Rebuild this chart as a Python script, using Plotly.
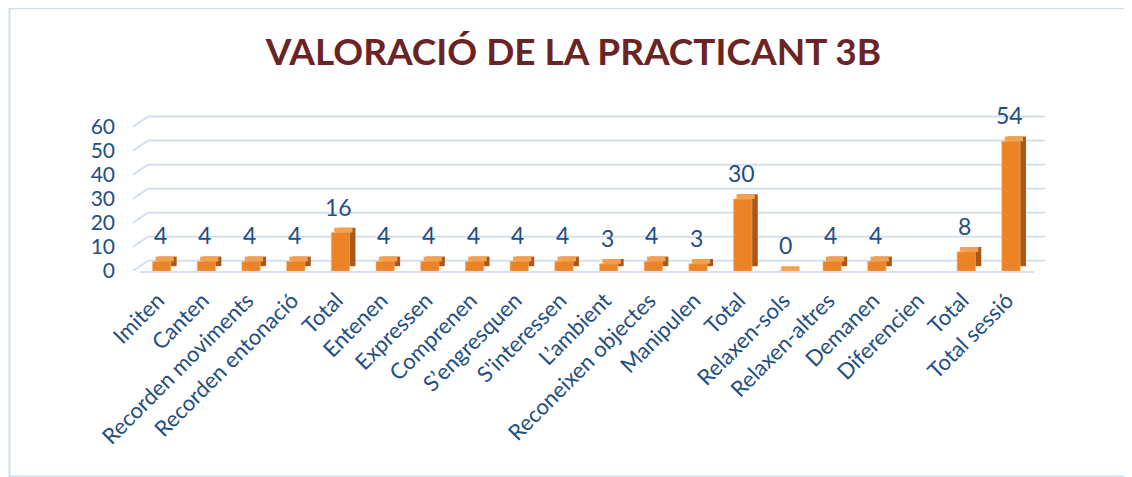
import plotly.graph_objects as go

categories = [
    "Imiten", "Canten", "Recorden moviments", "Recorden entonació", "Total",
    "Entenen", "Expressen", "Comprenen", "S’engresquen", "S'interessen",
    "L’ambient", "Reconeixen objectes", "Manipulen", "Total", "Relaxen-sols",
    "Relaxen-altres", "Demanen", "Diferencien", "Total", "Total sessió",
]
values = [4, 4, 4, 4, 16, 4, 4, 4, 4, 4, 3, 4, 3, 30, 0, 4, 4, None, 8, 54]
y_ticks = [0, 10, 20, 30, 40, 50, 60]

BLUE = "#1F4E82"
GRID = "#D5DFEF"
FONT = "Lato"

pos = list(range(len(categories)))
depth = 2  # fake 3D depth in value units
wall_shift = 4.3  # back-wall gridlines sit a bit higher than the front

fig = go.Figure()
# side face (darker, shifted right/up)
fig.add_trace(go.Bar(
    x=pos, y=values, base=depth, width=0.41, offset=-0.09,
    marker=dict(color="#A9581A", line=dict(width=0)), hoverinfo="skip",
))
# top face
fig.add_trace(go.Bar(
    x=pos, y=[depth if v is not None else None for v in values],
    base=[v if v is not None else 0 for v in values],
    width=0.41, offset=-0.155,
    marker=dict(color="#F4A04E", line=dict(width=0)), hoverinfo="skip",
))
# front face
fig.add_trace(go.Bar(
    x=pos, y=values, width=0.41, offset=-0.22,
    marker=dict(color="#EC8326", line=dict(color="#F7B06A", width=0.6)),
))

for i, v in enumerate(values):
    if v is None:
        continue
    fig.add_annotation(
        x=i - 0.05, y=v, text=str(v), showarrow=False, yshift=26,
        font=dict(size=23, color=BLUE, family=FONT),
    )

shapes = []
for t in y_ticks:
    # back wall gridline plus the little diagonal on the side wall
    shapes.append(dict(
        type="line", xref="paper", yref="y", layer="below",
        x0=0.009, x1=1.012, y0=t + wall_shift, y1=t + wall_shift,
        line=dict(color=GRID, width=2),
    ))
    shapes.append(dict(
        type="line", xref="paper", yref="y", layer="below",
        x0=-0.008, x1=0.009, y0=t, y1=t + wall_shift,
        line=dict(color=GRID, width=2),
    ))
shapes.append(dict(
    type="rect", xref="paper", yref="paper",
    x0=-0.146, x1=1.115, y0=-1.30, y1=1.663,
    line=dict(color="#D3DFEF", width=2), fillcolor="rgba(0,0,0,0)",
    layer="below",
))

fig.update_layout(
    width=1124, height=469, autosize=False,
    barmode="overlay", showlegend=False,
    paper_bgcolor="white", plot_bgcolor="white",
    margin=dict(l=132, r=98, t=105, b=206, autoexpand=False),
    font=dict(family=FONT, color=BLUE),
    title=dict(
        text="<b>VALORACIÓ DE LA PRACTICANT 3B</b>",
        x=0.503, xref="container", xanchor="center",
        y=0.906, yref="container", yanchor="middle",
        font=dict(size=37, color="#6B2424", family=FONT),
    ),
    xaxis=dict(
        range=[-0.5, len(categories) - 0.5],
        tickvals=[p - 0.1 for p in pos], ticktext=categories, tickangle=-45,
        tickfont=dict(size=22, color=BLUE), ticks="",
        showgrid=False, zeroline=False, automargin=False,
        showline=True, linecolor=GRID, linewidth=2,
        ticklabelstandoff=6,
    ),
    yaxis=dict(
        range=[0, 65.8], tickvals=y_ticks, showgrid=False, zeroline=False,
        tickfont=dict(size=21, color=BLUE), ticks="", ticklabelstandoff=24,
        automargin=False,
    ),
    shapes=shapes,
)

fig.write_html("out.html")
